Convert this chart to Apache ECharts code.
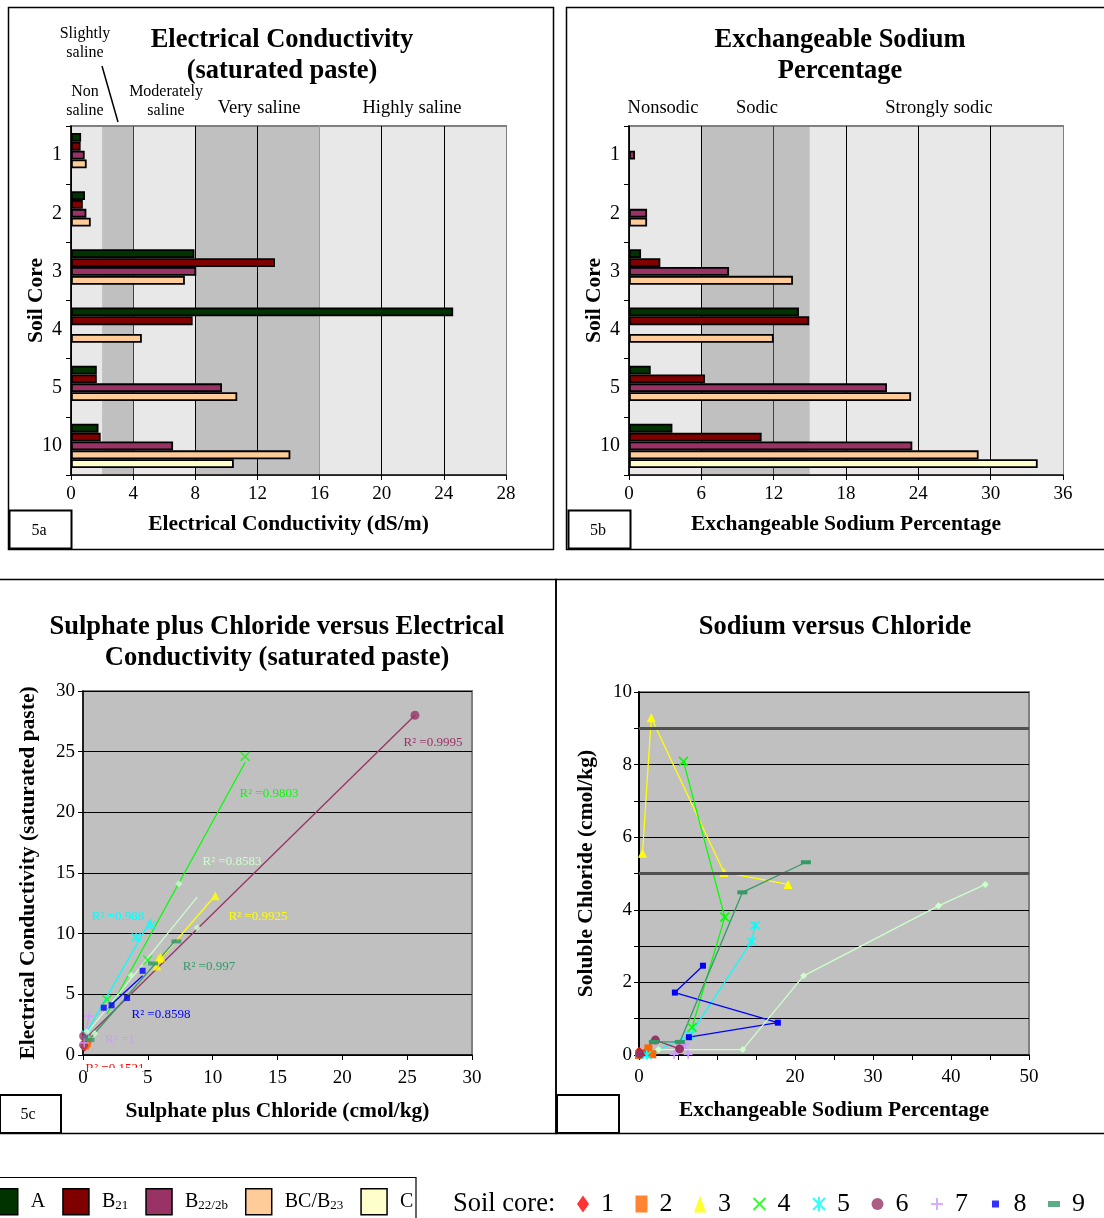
<!DOCTYPE html>
<html>
<head>
<meta charset="utf-8">
<script src="https://cdn.jsdelivr.net/npm/echarts@6/dist/echarts.min.js"></script>
<style>
html, body { margin: 0; padding: 0; background: #fff; }
#chart { width: 1104px; height: 1218px; }
</style>
</head>
<body>
<div id="chart"></div>
<script>
// soil cores and horizons for the two bar panels
var cores = ['1', '2', '3', '4', '5', '10'];
var horizons = ['A', 'B21', 'B22/2b', 'BC/B23', 'C'];
var horizonColors = ['#003300', '#800000', '#993366', '#FFCC99', '#FFFFCC'];

// 5a electrical conductivity (dS/m)
var ecA = [0.65, 0.9, 7.95, 24.6, 1.66, 1.77];
var ecB21 = [0.62, 0.76, 13.13, 7.83, 1.66, 1.91];
var ecB22 = [0.88, 0.99, 8.06, null, 9.72, 6.57];
var ecBC = [1.01, 1.27, 7.33, 4.56, 10.7, 14.12];
var ecC = [null, null, null, null, null, 10.48];

// 5b exchangeable sodium percentage
var espA = [null, null, 1.0, 14.1, 1.8, 3.6];
var espB21 = [null, null, 2.6, 14.95, 6.3, 11.0];
var espB22 = [0.5, 1.5, 8.3, null, 21.4, 23.5];
var espBC = [null, 1.5, 13.6, 12.0, 23.4, 29.0];
var espC = [null, null, null, null, null, 33.9];

// 5c sulphate plus chloride (cmol/kg) vs EC, one list per core
var sc1 = [[0.15, 0.65], [0.1, 0.62], [0.2, 0.88], [0.25, 1.01]];
var sc2 = [[0.2, 0.9], [0.15, 0.76], [0.3, 0.99], [0.35, 1.27]];
var sc3 = [[5.85, 7.95], [10.2, 13.13], [6.0, 8.06], [5.7, 7.33]];
var sc4 = [[12.5, 24.6], [5.0, 7.83], [1.85, 4.56]];
var sc5 = [[0.2, 1.66], [0.25, 1.7], [4.1, 9.72], [5.26, 10.7]];
var sc6 = [[0.05, 0.83], [0.05, 1.57], [25.6, 28.0]];
var sc7 = [[0.1, 1.0], [0.44, 3.2]];
var sc8 = [[1.6, 3.9], [2.2, 4.1], [3.4, 4.7], [4.6, 6.94]];
var sc9 = [[0.5, 1.24], [5.4, 7.54], [7.2, 9.36]];
var sc10 = [[0.3, 1.91], [0.9, 1.77], [3.7, 6.57], [7.4, 14.12], [8.8, 10.48]];
var r2Text = ['0.1521', '', '0.9925', '0.9803', '0.988', '0.9995', '1', '0.8598', '0.997', '0.8583'];

// 5d ESP vs soluble chloride (cmol/kg), one list per core
var na1 = [[0, 0.12], [0, 0.02], [0.5, 0.05], [0, 0.0]];
var na2 = [[0, 0.02], [1.2, 0.18], [1.7, 0.02], [0, 0.0]];
var na3 = [[0.45, 5.56], [1.57, 9.29], [10.9, 5.03], [19.1, 4.70]];
var na4 = [[5.7, 8.09], [11.0, 3.8], [6.8, 0.76]];
var na5 = [[1.0, 0.0], [6.5, 0.54], [14.4, 3.12], [14.9, 3.57]];
var na6 = [[0.1, 0.03], [2.1, 0.41], [5.2, 0.17]];
var na7 = [[4.5, 0.02], [5.9, 0.3], [6.3, 0.02]];
var na8 = [[8.2, 2.46], [4.6, 1.72], [17.8, 0.89], [6.4, 0.49]];
var na9 = [[1.9, 0.36], [5.24, 0.36], [13.25, 4.48], [21.4, 5.31]];
var na10 = [[2.5, 0.15], [13.3, 0.15], [21.1, 2.18], [38.4, 4.11], [44.4, 4.70]];

var coreNames = ['1', '2', '3', '4', '5', '6', '7', '8', '9', '10'];
var coreColors = ['#FF0000', '#FF6600', '#FFFF00', '#00FF00', '#00FFFF', '#993366', '#CC99FF', '#0000FF', '#339966', '#CCFFCC'];
var coreSymbols = ['diamond', 'rect', 'triangle', 'path://M0,0L10,10M10,0L0,10',
  'path://M0,0L10,10M10,0L0,10M5,-1L5,11', 'circle', 'path://M5,0L5,10M0,5L10,5', 'rect', 'rect', 'diamond'];
var coreSizes = [8, 8, 9, 9, 9, 9, 9, 6, [10, 4], 7];

var serif = "'Liberation Serif', 'Times New Roman', serif";
var chart = echarts.init(document.getElementById('chart'));

function fitLine(pts) {
  var n = pts.length, sx = 0, sy = 0, sxx = 0, sxy = 0, lo = Infinity, hi = -Infinity;
  pts.forEach(function (p) {
    sx += p[0]; sy += p[1]; sxx += p[0] * p[0]; sxy += p[0] * p[1];
    lo = Math.min(lo, p[0]); hi = Math.max(hi, p[0]);
  });
  var b = (n * sxy - sx * sy) / (n * sxx - sx * sx);
  var a = (sy - b * sx) / n;
  return [[lo, a + b * lo], [hi, a + b * hi]];
}

function txt(x, y, s, font, extra) {
  var st = { text: s, x: x, y: y, font: font, fill: '#000', textAlign: 'center', textVerticalAlign: 'middle' };
  for (var k in extra) st[k] = extra[k];
  return { type: 'text', z: 50, style: st };
}
function box(x, y, w, h, lw, fill) {
  return { type: 'rect', z: 40, shape: { x: x, y: y, width: w, height: h },
    style: { fill: fill || 'none', stroke: '#000', lineWidth: lw } };
}

var bold26 = 'bold 26.5px ' + serif;
var reg16 = '16px ' + serif;
var reg18 = '18.5px ' + serif;
var nameFont = { color: '#000', fontFamily: serif, fontSize: 21.5, fontWeight: 'bold' };

function barAxisX(grid, max, step, lineColors, name) {
  return {
    gridIndex: grid, type: 'value', min: 0, max: max, interval: step, z: 1,
    axisLine: { show: true, lineStyle: { color: '#000', width: 1.5 } },
    axisTick: { show: true, length: 5, lineStyle: { color: '#000' } },
    axisLabel: { color: '#000', fontFamily: serif, fontSize: 19, margin: 10 },
    splitLine: { show: true, lineStyle: { color: lineColors, width: 1 } },
    name: name, nameLocation: 'middle', nameGap: 38, nameTextStyle: nameFont
  };
}
function bandAxisX(grid, max, step, bands) {
  return {
    gridIndex: grid, type: 'value', position: 'top', min: 0, max: max, interval: step, z: 0,
    axisLine: { show: true, onZero: false, lineStyle: { color: '#808080', width: 2 } },
    axisTick: { show: false }, axisLabel: { show: false }, splitLine: { show: false },
    splitArea: { show: true, areaStyle: { color: bands } }
  };
}
function coreAxisY(grid) {
  return {
    gridIndex: grid, type: 'category', data: cores, inverse: true, z: 1,
    axisLine: { show: true, lineStyle: { color: '#000', width: 1.5 } },
    axisTick: { show: true, length: 5, lineStyle: { color: '#000' } },
    axisLabel: { color: '#000', fontFamily: serif, fontSize: 20, margin: 9 },
    name: 'Soil Core', nameLocation: 'middle', nameGap: 24, nameMoveOverlap: false, nameTextStyle: nameFont
  };
}

var L = '#E8E8E8', D = '#C0C0C0';
var series = [];

[[ecA, ecB21, ecB22, ecBC, ecC], [espA, espB21, espB22, espBC, espC]].forEach(function (set, p) {
  set.forEach(function (vals, i) {
    series.push({
      name: horizons[i], type: 'bar', xAxisIndex: p * 2, yAxisIndex: p,
      data: vals, barGap: '0%', barCategoryGap: '24%',
      itemStyle: { color: horizonColors[i], borderColor: '#000', borderWidth: 1.8 }
    });
  });
});

var scData = [sc1, sc2, sc3, sc4, sc5, sc6, sc7, sc8, sc9, sc10];
var naData = [na1, na2, na3, na4, na5, na6, na7, na8, na9, na10];

function markerStyle(i) {
  var stroked = coreSymbols[i].indexOf('path://') === 0;
  return stroked
    ? { color: coreColors[i], borderColor: coreColors[i], borderWidth: 1.6 }
    : { color: coreColors[i] };
}

scData.forEach(function (pts, i) {
  series.push({
    name: coreNames[i], type: 'scatter', xAxisIndex: 4, yAxisIndex: 2, z: 4,
    data: pts, symbol: coreSymbols[i], symbolSize: coreSizes[i], itemStyle: markerStyle(i)
  });
});
scData.forEach(function (pts, i) {
  series.push({
    name: coreNames[i], type: 'line', xAxisIndex: 4, yAxisIndex: 2, z: 3,
    data: fitLine(pts), showSymbol: false, symbol: 'none',
    lineStyle: { color: coreColors[i], width: 1.3 }
  });
});
naData.forEach(function (pts, i) {
  var s = {
    name: coreNames[i], type: 'line', xAxisIndex: 5, yAxisIndex: 3, z: 4,
    data: pts, symbol: coreSymbols[i], symbolSize: coreSizes[i], showAllSymbol: true,
    itemStyle: markerStyle(i), lineStyle: { color: coreColors[i], width: 1.3 }
  };
  if (i === 0) {
    s.markLine = {
      silent: true, symbol: 'none', label: { show: false },
      lineStyle: { color: '#505050', width: 3, type: 'solid' },
      data: [{ yAxis: 9 }, { yAxis: 5 }]
    };
  }
  series.push(s);
});

// legend icons: small square for core 8, flat dash for core 9 (corner dots keep the box size)
var legendCores = coreNames.map(function (n, i) {
  if (i === 7) return { name: n, icon: 'path://M0,0h0.01v0.01h-0.01z M2.5,5h7v7h-7z M11.99,16.99h0.01v0.01h-0.01z' };
  if (i === 8) return { name: n, icon: 'path://M0,0h0.01v0.01h-0.01z M0,5.5h12v6h-12z M11.99,16.99h0.01v0.01h-0.01z' };
  return { name: n };
});

// R² annotations placed beside each trend line (5c)
var r2Pos = [[115, 1069], null, [258, 917], [269, 794], [118, 917], [433, 743], [120, 1040], [161, 1015], [209, 967], [232, 862]];
var graphics = [];
r2Pos.forEach(function (pos, i) {
  if (!pos) return;
  graphics.push(txt(pos[0], pos[1], 'R² =' + r2Text[i], '13px ' + serif, { fill: coreColors[i] }));
});
// the lowest label is cut off by the axis label area
graphics.push({ type: 'rect', z: 55, shape: { x: 88, y: 1068, width: 54, height: 8 }, style: { fill: '#fff' } });

graphics = graphics.concat([
  // panel frames
  box(8.5, 7.5, 545, 542, 1.5), box(566.5, 7.5, 560, 542, 1.5),
  box(-2, 579.5, 558, 554, 1.5), box(556, 579.5, 560, 554, 1.5),
  box(-2, 1177.5, 418, 60, 1.2),
  box(9.5, 510.5, 62, 38, 2, '#fff'), box(568.5, 510.5, 62, 38, 2, '#fff'),
  box(0, 1095, 61, 38, 2, '#fff'), box(557, 1095, 62, 38, 2, '#fff'),
  txt(39, 531, '5a', reg16), txt(598, 531, '5b', reg16), txt(28, 1115, '5c', reg16),
  // titles
  txt(282, 40, 'Electrical Conductivity', bold26), txt(282, 71, '(saturated paste)', bold26),
  txt(840, 40, 'Exchangeable Sodium', bold26), txt(840, 71, 'Percentage', bold26),
  txt(277, 627, 'Sulphate plus Chloride versus Electrical', bold26),
  txt(277, 658, 'Conductivity (saturated paste)', bold26),
  txt(835, 627, 'Sodium versus Chloride', bold26),
  // salinity classes
  txt(85, 34, 'Slightly', reg16), txt(85, 53, 'saline', reg16),
  txt(85, 92, 'Non', reg16), txt(85, 111, 'saline', reg16),
  txt(166, 92, 'Moderately', reg16), txt(166, 111, 'saline', reg16),
  txt(259, 108, 'Very saline', reg18), txt(412, 108, 'Highly saline', reg18),
  { type: 'line', z: 50, shape: { x1: 102, y1: 66, x2: 118, y2: 122 }, style: { stroke: '#000', lineWidth: 1.5 } },
  // sodicity classes
  txt(663, 108, 'Nonsodic', reg18), txt(757, 108, 'Sodic', reg18), txt(939, 108, 'Strongly sodic', reg18),
  txt(453, 1204, 'Soil core:', '26.5px ' + serif, { textAlign: 'left' })
]);

var option = {
  animation: false,
  backgroundColor: '#fff',
  grid: [
    { left: 71, top: 126, width: 435, height: 349, show: true, z: -1, backgroundColor: 'transparent', borderColor: '#808080', borderWidth: 2 },
    { left: 629, top: 126, width: 434, height: 349, show: true, z: -1, backgroundColor: 'transparent', borderColor: '#808080', borderWidth: 2 },
    { left: 83, top: 691, width: 389, height: 364, show: true, z: -1, backgroundColor: '#C0C0C0', borderColor: '#808080', borderWidth: 2 },
    { left: 639, top: 692, width: 390, height: 363, show: true, z: -1, backgroundColor: '#C0C0C0', borderColor: '#808080', borderWidth: 2 }
  ],
  xAxis: [
    barAxisX(0, 28, 4, ['#000', '#404040', '#000', '#000', '#999', '#000', '#000', '#808080'], 'Electrical Conductivity (dS/m)'),
    bandAxisX(0, 28, 2, [L, D, L, L, D, D, D, D, L, L, L, L, L, L]),
    barAxisX(1, 36, 6, ['#000', '#000', '#404040', '#000', '#000', '#000', '#808080'], 'Exchangeable Sodium Percentage'),
    bandAxisX(1, 36, 3, [L, L, D, D, D, L, L, L, L, L, L, L]),
    {
      gridIndex: 2, type: 'value', min: 0, max: 30, interval: 5,
      axisLine: { show: true, onZero: false, lineStyle: { color: '#000', width: 1.5 } },
      axisTick: { show: true, length: 5, lineStyle: { color: '#000' } },
      axisLabel: { color: '#000', fontFamily: serif, fontSize: 19, margin: 14 },
      splitLine: { show: false },
      name: 'Sulphate plus Chloride (cmol/kg)', nameLocation: 'middle', nameGap: 45, nameTextStyle: nameFont
    },
    {
      gridIndex: 3, type: 'value', min: 0, max: 50, interval: 5,
      axisLine: { show: true, onZero: false, lineStyle: { color: '#000', width: 1.5 } },
      axisTick: { show: true, length: 5, lineStyle: { color: '#000' } },
      axisLabel: {
        color: '#000', fontFamily: serif, fontSize: 19, margin: 13,
        formatter: function (v) { return (v === 0 || (v >= 20 && v % 10 === 0)) ? String(v) : ''; }
      },
      splitLine: { show: false },
      name: 'Exchangeable Sodium Percentage', nameLocation: 'middle', nameGap: 44, nameTextStyle: nameFont
    }
  ],
  yAxis: [
    coreAxisY(0),
    coreAxisY(1),
    {
      gridIndex: 2, type: 'value', min: 0, max: 30, interval: 5,
      axisLine: { show: true, onZero: false, lineStyle: { color: '#000', width: 1.5 } },
      axisTick: { show: true, length: 5, lineStyle: { color: '#000' } },
      axisLabel: { color: '#000', fontFamily: serif, fontSize: 19, margin: 8 },
      splitLine: { show: true, lineStyle: { color: '#000', width: 1 } },
      name: 'Electrical Conductivity (saturated paste)', nameLocation: 'middle', nameGap: 44, nameTextStyle: nameFont
    },
    {
      gridIndex: 3, type: 'value', min: 0, max: 10, interval: 1,
      axisLine: { show: true, onZero: false, lineStyle: { color: '#000', width: 2 } },
      axisTick: { show: true, length: 5, lineStyle: { color: '#000' } },
      axisLabel: {
        color: '#000', fontFamily: serif, fontSize: 19, margin: 7,
        formatter: function (v) { return v % 2 === 0 ? String(v) : ''; }
      },
      splitLine: { show: true, lineStyle: { color: '#000', width: 1 } },
      name: 'Soluble Chloride (cmol/kg)', nameLocation: 'middle', nameGap: 42, nameTextStyle: nameFont
    }
  ],
  legend: [
    {
      data: horizons, left: -9, top: 1188, padding: 0, itemWidth: 26, itemHeight: 26, itemGap: 17,
      icon: 'rect', selectedMode: false,
      itemStyle: { borderColor: '#000', borderWidth: 1.5 },
      formatter: function (n) {
        if (n === 'B21') return '{b|B}{s|21}';
        if (n === 'B22/2b') return '{b|B}{s|22/2b}';
        if (n === 'BC/B23') return '{b|BC/B}{s|23}';
        return '{b|' + n + '}';
      },
      textStyle: {
        padding: [0, 0, 0, 8],
        rich: {
          b: { fontFamily: serif, fontSize: 20, color: '#000' },
          s: { fontFamily: serif, fontSize: 13, color: '#000', padding: [8, 0, 0, 0] }
        }
      }
    },
    {
      data: legendCores, left: 577, top: 1191, padding: 0, width: 1200,
      itemWidth: 12, itemHeight: 17, itemGap: 21.5, selectedMode: false,
      textStyle: { fontFamily: serif, fontSize: 26, color: '#000', padding: [0, 0, 0, 7] }
    }
  ],
  graphic: graphics,
  series: series
};

chart.setOption(option);
</script>
</body>
</html>
